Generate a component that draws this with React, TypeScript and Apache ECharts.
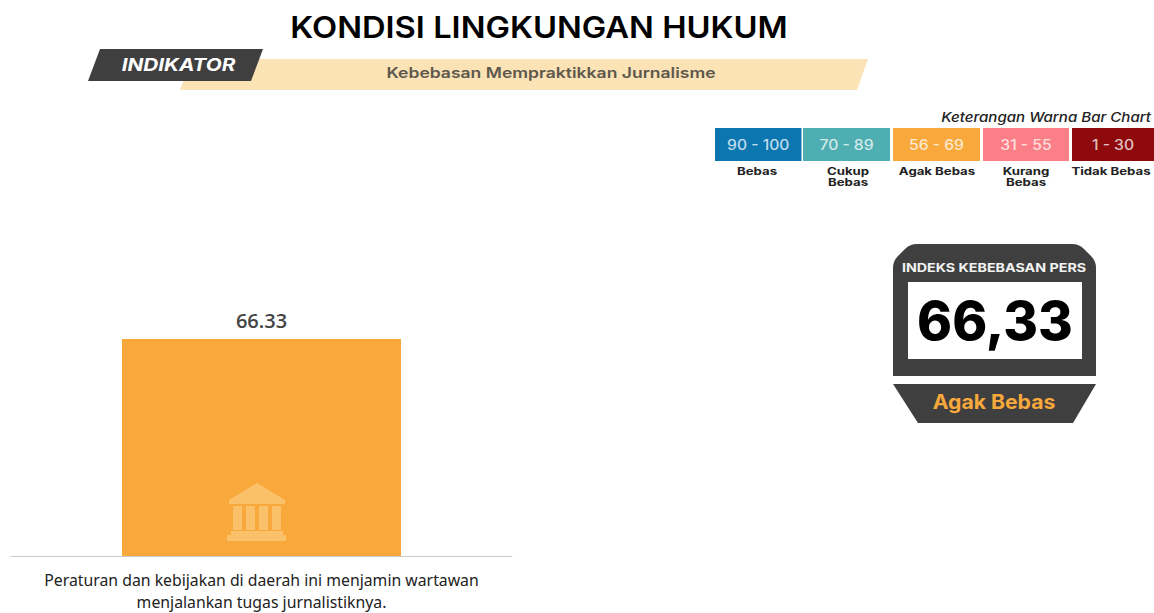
import React, { useEffect, useRef } from "react";
import * as echarts from "echarts";

const chartTitle = "KONDISI LINGKUNGAN HUKUM";
const indicatorTag = "INDIKATOR";
const indicatorName = "Kebebasan Mempraktikkan Jurnalisme";
const categories = ["Peraturan dan kebijakan di daerah ini menjamin wartawan\nmenjalankan tugas jurnalistiknya."];
const values = [66.33];
const legendCaption = "Keterangan Warna Bar Chart";
const legendRanges = ["90 - 100", "70 - 89", "56 - 69", "31 - 55", "1 - 30"];
const legendNames = ["Bebas", "Cukup\nBebas", "Agak Bebas", "Kurang\nBebas", "Tidak Bebas"];
const legendColors = ["#0B76B0", "#4FAEB2", "#F9A93B", "#FB7F86", "#8E0A0C"];
const legendLefts = [715, 803, 893, 983, 1072];
const legendRights = [801.5, 890, 980, 1069, 1154];
const legendNameCentres = [757, 848, 937, 1026, 1111];
const gaugeLabel = "INDEKS KEBEBASAN PERS";
const gaugeValue = "66,33";
const gaugeStatus = "Agak Bebas";

const FONT = "Inter, 'DejaVu Sans', sans-serif";
const DARK = "#3F3F3F";

const iconPath =
  "M30 0 L58 17 L58 21 L2 21 L2 17 Z " +
  "M6 23 L15 23 L15 47 L6 47 Z M19 23 L28 23 L28 47 L19 47 Z M32 23 L41 23 L41 47 L32 47 Z M45 23 L54 23 L54 47 L45 47 Z " +
  "M4 48 L56 48 L56 52 L59 52 L59 58 L0 58 L0 52 L4 52 Z";
const gaugePath =
  "M24 0 L179 0 Q186 0 191 5 L198 12 Q203 17 203 24 L203 132 L0 132 L0 24 Q0 17 5 12 L12 5 Q17 0 24 0 Z";

echarts.graphic.registerShape("bankIcon", echarts.graphic.extendPath(iconPath as any, {} as any) as any);
echarts.graphic.registerShape("gaugeShape", echarts.graphic.extendPath(gaugePath as any, {} as any) as any);

export default function App() {
  const ref = useRef<HTMLDivElement>(null);
  useEffect(() => {
    document.body.style.margin = "0";
    const chart = echarts.init(ref.current!, null, { renderer: "svg" });
    const legendGraphics: any[] = [];
    legendRanges.forEach((r, i) => {
      const l = legendLefts[i];
      const w = legendRights[i] - l;
      legendGraphics.push({
        type: "rect",
        shape: { x: l, y: 128, width: w, height: 33 },
        style: { fill: legendColors[i] },
      });
      legendGraphics.push({
        type: "text",
        x: l + w / 2,
        y: 145,
        scaleX: 1.12,
        style: { text: r, fill: "rgba(255,255,255,0.75)", font: `500 14px ${FONT}`, align: "center", verticalAlign: "middle" },
      });
      legendGraphics.push({
        type: "text",
        x: legendNameCentres[i],
        y: 165.5,
        scaleX: 1.32,
        style: { text: legendNames[i], fill: "#222", font: `700 10px ${FONT}`, lineHeight: 11.5, align: "center", verticalAlign: "top" },
      });
    });
    chart.setOption({
      animation: false,
      grid: { left: 11, right: 642, top: 229, bottom: 55 },
      xAxis: {
        type: "category",
        data: categories,
        axisLine: { lineStyle: { color: "#CCCCCC", width: 1 } },
        axisTick: { show: false },
        axisLabel: { interval: 0, margin: 13, fontFamily: "'Noto Sans', sans-serif", fontSize: 15.8, lineHeight: 22, color: "#222" },
      },
      yAxis: { type: "value", min: 0, max: 100, show: false },
      series: [
        {
          type: "bar",
          data: values,
          barWidth: 279,
          itemStyle: { color: "#F9A93B" },
          label: {
            show: true,
            position: "top",
            distance: 9,
            formatter: (p: any) => p.value.toFixed(2),
            fontFamily: "'Open Sans', sans-serif",
            fontWeight: 600,
            fontSize: 20,
            color: "#444",
          },
        },
      ],
      graphic: {
        elements: [
          { type: "text", x: 539, y: 27, scaleX: 1.09, style: { text: chartTitle, fill: "#000", font: `600 30px ${FONT}`, align: "center", verticalAlign: "middle" } },
          { type: "polygon", z: 1, shape: { points: [[192, 59], [868, 59], [857, 90], [180, 90]] }, style: { fill: "#FBE3B5" } },
          { type: "polygon", z: 2, shape: { points: [[100, 49], [263, 49], [251, 81], [88, 81]] }, style: { fill: DARK } },
          { type: "text", z: 3, x: 178.5, y: 65, scaleX: 1.22, style: { text: indicatorTag, fill: "#fff", font: `italic 700 17px ${FONT}`, align: "center", verticalAlign: "middle" } },
          { type: "text", z: 3, x: 551, y: 73, scaleX: 1.21, style: { text: indicatorName, fill: "#5E574C", font: `600 14.5px ${FONT}`, align: "center", verticalAlign: "middle" } },
          { type: "text", x: 1151, y: 117, scaleX: 1.16, style: { text: legendCaption, fill: "#222", font: `italic 500 13px ${FONT}`, align: "right", verticalAlign: "middle" } },
          ...legendGraphics,
          { type: "gaugeShape", z: 1, x: 893, y: 244, style: { fill: DARK } },
          { type: "rect", z: 2, shape: { x: 908, y: 282, width: 174, height: 77 }, style: { fill: "#fff" } },
          { type: "text", z: 3, x: 994, y: 267, scaleX: 1.19, style: { text: gaugeLabel, fill: "#F2F2F2", font: `700 12px ${FONT}`, align: "center", verticalAlign: "middle" } },
          { type: "text", z: 3, x: 995, y: 321, style: { text: gaugeValue, fill: "#000", font: `800 53px ${FONT}`, align: "center", verticalAlign: "middle" } },
          { type: "polygon", z: 1, shape: { points: [[893, 384], [1096, 384], [1073, 423], [918, 423]] }, style: { fill: DARK } },
          { type: "text", z: 3, x: 994, y: 402, scaleX: 1.06, style: { text: gaugeStatus, fill: "#F9A93B", font: `700 20px ${FONT}`, align: "center", verticalAlign: "middle" } },
          { type: "bankIcon", z: 10, x: 227, y: 483, style: { fill: "#FBC06A" } },
        ],
      },
    });
    return () => chart.dispose();
  }, []);
  return <div ref={ref} style={{ position: "absolute", left: 0, top: 0, width: 1154, height: 613 }} />;
}
